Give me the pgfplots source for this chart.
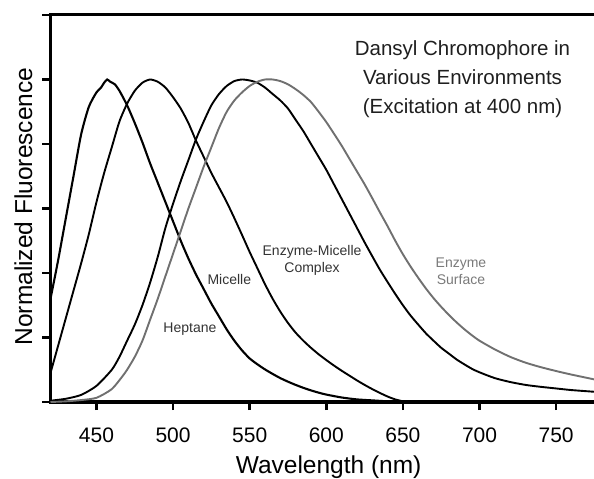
\documentclass[border=0pt]{standalone}
\usepackage{pgfplots}
\pgfplotsset{compat=1.18}
\usepackage{fontspec}
\setmainfont{Liberation Sans}

\definecolor{surfacegray}{HTML}{707070}
\definecolor{labeldark}{HTML}{333333}
\definecolor{labelgray}{HTML}{7A7A7A}

\begin{document}
\begin{tikzpicture}
\useasboundingbox (0,0) rectangle (594bp,479bp);
\begin{axis}[
  at={(50.5bp,77bp)}, anchor=south west,
  scale only axis, width=547bp, height=387bp,
  xmin=420, xmax=777, ymin=0, ymax=1.2,
  xtick={450,500,550,600,650,700,750},
  ytick={0,0.2,0.4,0.6,0.8,1.0,1.2}, yticklabels={},
  tick pos=left, tick align=outside,
  major tick length=8bp,
  axis line style={line width=3bp},
  every tick/.style={black, line width=2.5bp},
  /pgf/number format/assume math mode=true,
  xticklabel style={font=\fontsize{21bp}{25bp}\selectfont, yshift=-14bp},
  xlabel={Wavelength (nm)},
  ylabel={Normalized Fluorescence},
  every axis x label/.style={at={(axis description cs:0.5084,-0.1835)}, anchor=base,
    font=\fontsize{24.5bp}{29bp}\selectfont},
  every axis y label/.style={at={(axis description cs:-0.0338,0.505)}, anchor=base, rotate=90,
    font=\fontsize{24.5bp}{29bp}\selectfont},
  clip=false,
]

% Heptane
\addplot[black, line width=2.1bp, smooth, tension=0.4] coordinates {
(420,0.32) (425,0.44) (430,0.57) (435,0.70) (440,0.83) (445,0.915)
(450,0.96) (453,0.975) (455,0.99) (457,1.0) (459,0.993)
(462,0.985) (465,0.965) (470,0.92) (475,0.865) (480,0.805) (485,0.74)
(490,0.68) (495,0.62) (500,0.56) (505,0.50) (510,0.445) (515,0.395)
(520,0.35) (525,0.305) (530,0.265) (535,0.225) (540,0.19) (545,0.16)
(550,0.135) (555,0.117) (560,0.101) (565,0.087) (570,0.074) (575,0.063)
(580,0.053) (585,0.044) (590,0.036) (595,0.029) (600,0.023) (610,0.014)
(620,0.008) (630,0.005) (640,0.002) (650,0.0)
};

% Micelle
\addplot[black, line width=1.9bp, smooth, tension=0.4] coordinates {
(420,0.09) (425,0.175) (430,0.26) (435,0.345) (440,0.43) (445,0.52)
(450,0.62) (455,0.71) (460,0.79) (465,0.87) (470,0.925) (475,0.965)
(480,0.99) (485,1.0) (490,0.993) (495,0.975) (500,0.945) (505,0.91)
(510,0.865) (515,0.81) (520,0.76) (525,0.71) (530,0.665) (535,0.62)
(540,0.57) (545,0.518) (550,0.465) (555,0.415) (560,0.365) (565,0.32)
(570,0.28) (575,0.245) (580,0.215) (585,0.19) (590,0.168) (595,0.148)
(600,0.13) (605,0.113) (610,0.097) (615,0.082) (620,0.067) (625,0.053)
(630,0.04) (635,0.028) (640,0.017) (645,0.008) (650,0.002)
};

% Enzyme-Micelle complex
\addplot[black, line width=1.9bp, smooth, tension=0.4] coordinates {
(420,0.004) (430,0.01) (440,0.022) (450,0.05) (460,0.10) (465,0.14)
(470,0.19) (475,0.24) (480,0.30) (485,0.37) (490,0.45) (495,0.54)
(500,0.615) (505,0.685) (510,0.75) (515,0.815) (520,0.87) (525,0.92)
(530,0.955) (535,0.98) (540,0.995) (545,1.0) (550,0.997) (555,0.99)
(560,0.975) (565,0.955) (570,0.935) (575,0.91) (580,0.875) (585,0.84)
(590,0.80) (595,0.76) (600,0.72) (605,0.675) (610,0.63) (615,0.585)
(620,0.54) (625,0.495) (630,0.452) (635,0.41) (640,0.372) (645,0.335)
(650,0.30) (655,0.268) (660,0.24) (665,0.213) (670,0.19) (675,0.168)
(680,0.15) (685,0.132) (690,0.117) (695,0.103) (700,0.092) (710,0.074)
(720,0.062) (730,0.053) (740,0.047) (750,0.042) (760,0.037) (777,0.031)
};

% Enzyme surface
\addplot[surfacegray, line width=1.9bp, smooth, tension=0.4] coordinates {
(420,0.0) (430,0.002) (440,0.006) (450,0.013) (460,0.04) (467,0.08)
(470,0.10) (475,0.14) (480,0.19) (485,0.255) (490,0.32) (495,0.39)
(500,0.46) (505,0.53) (510,0.60) (515,0.665) (520,0.73) (525,0.79)
(530,0.85) (535,0.90) (540,0.935) (545,0.96) (550,0.98) (555,0.993)
(560,1.0) (565,1.0) (570,0.995) (575,0.985) (580,0.97) (585,0.952)
(590,0.93) (595,0.90) (600,0.868) (605,0.832) (610,0.795) (615,0.755)
(620,0.715) (625,0.675) (630,0.632) (635,0.588) (640,0.545) (645,0.50)
(650,0.458) (655,0.42) (660,0.385) (665,0.352) (670,0.322) (675,0.295)
(680,0.27) (685,0.247) (690,0.226) (695,0.207) (700,0.19) (710,0.163)
(720,0.14) (730,0.122) (740,0.108) (750,0.096) (760,0.085) (777,0.068)
};

\node[align=center, text=black!88, font=\fontsize{20.5bp}{29bp}\selectfont]
  at (axis cs:688.9,1.0) {Dansyl Chromophore in\\Various Environments\\(Excitation at 400 nm)};

\node[text=labeldark, font=\fontsize{14bp}{17bp}\selectfont] at (axis cs:511,0.226) {Heptane};
\node[text=labeldark, font=\fontsize{14bp}{17bp}\selectfont] at (axis cs:536.7,0.381) {Micelle};
\node[align=center, text=labeldark, font=\fontsize{14bp}{17bp}\selectfont]
  at (axis cs:590.7,0.439) {Enzyme-Micelle\\Complex};
\node[align=center, text=labelgray, font=\fontsize{14bp}{17bp}\selectfont]
  at (axis cs:687.9,0.405) {Enzyme\\Surface};
\end{axis}
\end{tikzpicture}
\end{document}
